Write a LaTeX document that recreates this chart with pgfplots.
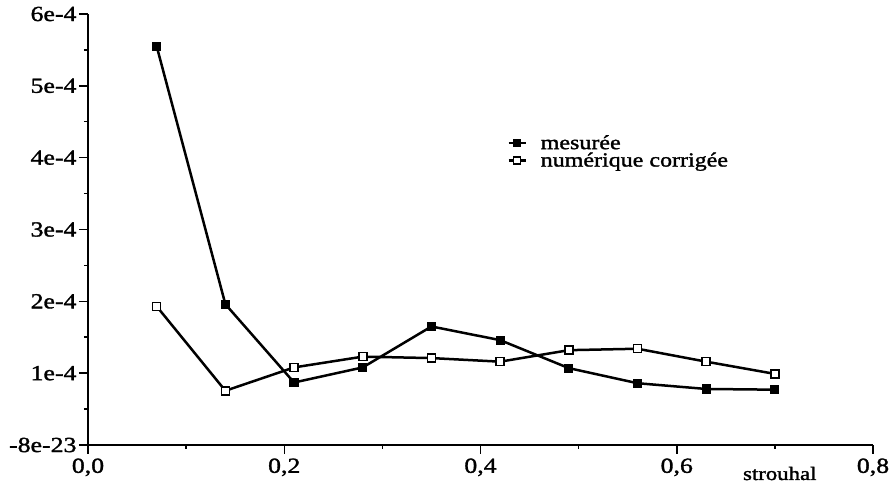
\documentclass[border=0pt]{standalone}
\usepackage{fontspec}
\setmainfont[FakeStretch=1.2, FakeBold=1.5]{Liberation Serif}
\usepackage{pgfplots}
\pgfplotsset{compat=1.18}
\begin{document}
\begin{tikzpicture}
\begin{axis}[
    scale only axis,
    width=785pt, height=431pt,
    xmin=0, xmax=0.8, ymin=0, ymax=6e-4,
    scaled y ticks=false,
    axis lines=left,
    axis line style={line width=1.8pt, -},
    tick align=outside,
    major tick length=9pt, minor tick length=4pt,
    every tick/.style={black, line width=1.5pt},
    xtick={0,0.2,0.4,0.6,0.8},
    xticklabels={0{,}0,0{,}2,0{,}4,0{,}6,0{,}8},
    minor x tick num=1,
    ytick={0,1e-4,2e-4,3e-4,4e-4,5e-4,6e-4},
    yticklabels={-8e-23,1e-4,2e-4,3e-4,4e-4,5e-4,6e-4},
    minor y tick num=1,
    ticklabel style={font=\fontsize{21.5}{24}\selectfont},
    yticklabel style={xshift=1pt},
    xticklabel style={yshift=-1pt},
    clip=false,
    legend style={draw=none, fill=none, at={(0.53,0.725)}, anchor=north west,
        font=\fontsize{20}{23}\selectfont, row sep=1pt,
        nodes={inner xsep=14pt, inner ysep=0.5pt}},
    legend cell align=left,
    legend image code/.code={
        \draw[line width=2.5pt] (0pt,0pt) -- (17pt,0pt);
        \draw[#1, line width=1.5pt, mark size=3.5pt] plot coordinates {(8.5pt,0pt)};
    },
]
\addplot[black, line width=2.5pt, mark=square*, mark size=4pt,
    mark options={line width=1.2pt, fill=black}] coordinates {
    (0.07,5.55e-4) (0.14,1.96e-4) (0.21,0.87e-4) (0.28,1.08e-4) (0.35,1.65e-4)
    (0.42,1.46e-4) (0.49,1.07e-4) (0.56,0.86e-4) (0.63,0.78e-4) (0.70,0.77e-4)
};
\addlegendentry{mesurée}
\addplot[black, line width=2.5pt, mark=square*, mark size=4pt,
    mark options={line width=1.5pt, fill=white}] coordinates {
    (0.07,1.93e-4) (0.14,0.755e-4) (0.21,1.08e-4) (0.28,1.23e-4) (0.35,1.21e-4)
    (0.42,1.16e-4) (0.49,1.32e-4) (0.56,1.34e-4) (0.63,1.16e-4) (0.70,0.99e-4)
};
\addlegendentry{numérique corrigée}
\node[font=\fontsize{19}{22}\selectfont, anchor=base] at (axis cs:0.705,0) [yshift=-35pt] {strouhal};
\end{axis}
\pgfresetboundingbox
\useasboundingbox (-88pt,-49pt) rectangle (805pt,445pt);
\end{tikzpicture}
\end{document}
